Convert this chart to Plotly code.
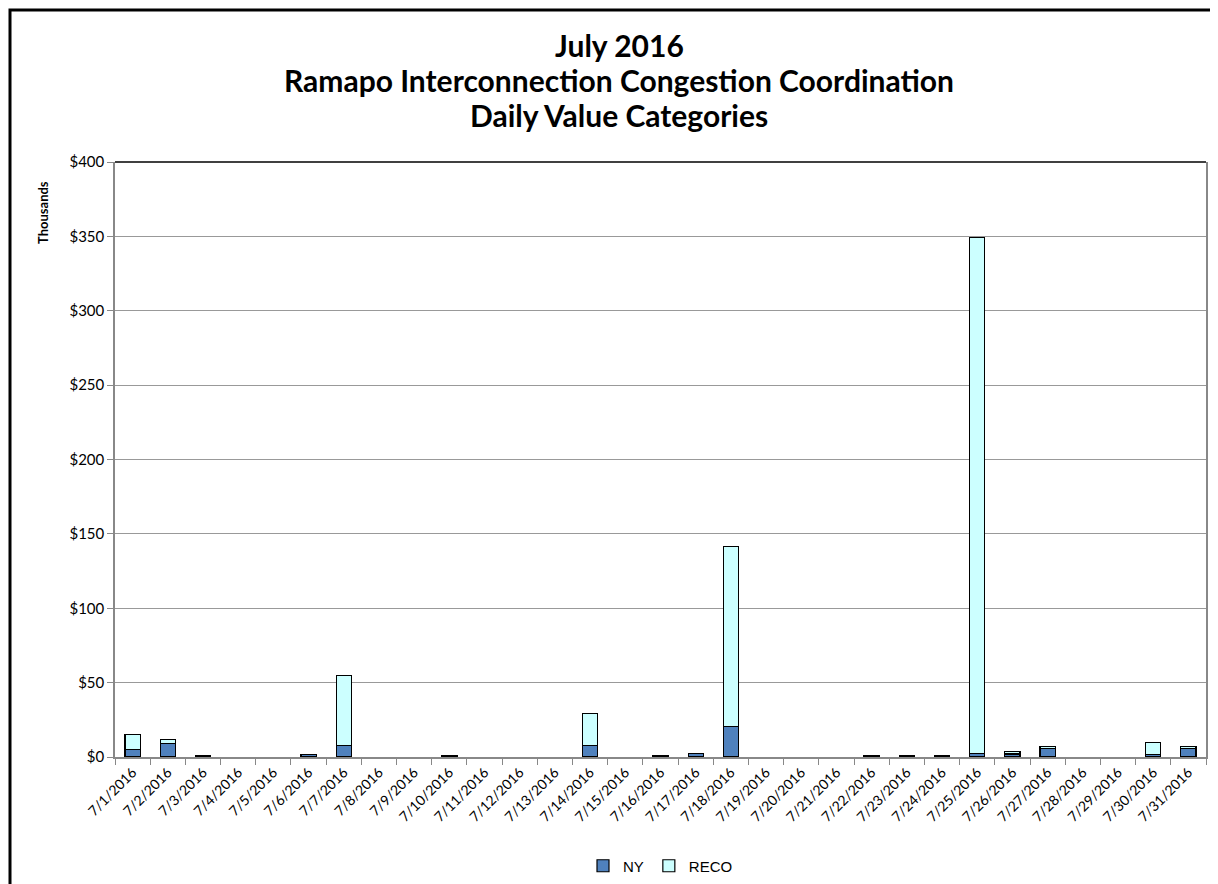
import plotly.graph_objects as go

dates = [f"7/{d}/2016" for d in range(1, 32)]
ny = [5, 9, 0.8, 0, 0, 1.5, 8, 0, 0, 0.8, 0, 0, 0, 8, 0, 0.8, 2.5, 20.5, 0, 0, 0, 0.8, 0.8, 0.8, 2.5, 2, 5.5, 0, 0, 1.5, 5.5]
reco = [10, 2.5, 0, 0, 0, 0, 47, 0, 0, 0, 0, 0, 0, 21.5, 0, 0, 0, 121, 0, 0, 0, 0, 0, 0, 347, 1.5, 1.5, 0, 0, 8.5, 1.5]
y_ticks = [0, 50, 100, 150, 200, 250, 300, 350, 400]
y_labels = ["$0", "$50", "$100", "$150", "$200", "$250", "$300", "$350", "$400"]
title_lines = ["July 2016", "Ramapo Interconnection Congestion Coordination", "Daily Value Categories"]

OFF = 8  # page body margin
W, H = 1218 - OFF, 884 - OFF
# plot area in screenshot pixels
PL, PR, PT, PB = 115, 1206, 162, 757
L, R, T, B = PL - OFF, W - (PR - OFF), PT - OFF, H - (PB - OFF)
pw, ph = W - L - R, H - T - B


def px_x(x):
    return (x - OFF - L) / pw


def px_y(y):
    return (H - B - (y - OFF)) / ph


def nz(v):
    return [None if a == 0 else a for a in v]


fig = go.Figure()
fig.add_trace(go.Bar(x=dates, y=nz(ny), name="NY",
                     marker=dict(color="#4F81BD", line=dict(color="black", width=1.2))))
fig.add_trace(go.Bar(x=dates, y=nz(reco), name="RECO",
                     marker=dict(color="#CCFFFF", line=dict(color="black", width=1.2))))

annotations = []
for i, t in enumerate(title_lines):
    annotations.append(dict(text=f"<b>{t}</b>", xref="paper", yref="paper",
                            x=px_x(619), y=px_y(45 + 35 * i), xanchor="center", yanchor="middle",
                            showarrow=False, font=dict(family="Lato", size=30, color="black")))
annotations.append(dict(text="<b>Thousands</b>", xref="paper", yref="paper",
                        x=px_x(43), y=px_y(213), xanchor="center", yanchor="middle", textangle=-90,
                        showarrow=False, font=dict(family="Lato", size=13, color="black")))

fig.update_layout(
    width=W, height=H,
    barmode="stack", bargap=0.57,
    plot_bgcolor="white", paper_bgcolor="white",
    margin=dict(l=L, r=R, t=T, b=B, autoexpand=False),
    showlegend=True,
    legend=dict(orientation="h", x=0.5, xanchor="center", y=px_y(866), yanchor="middle",
                font=dict(family="Liberation Sans", size=15, color="black"),
                itemwidth=30, traceorder="normal", bgcolor="rgba(0,0,0,0)"),
    font=dict(family="Liberation Sans", color="black"),
    xaxis=dict(
        type="category", tickangle=-45, tickson="boundaries", ticks="outside", ticklen=6,
        tickcolor="#888888", showline=True, linecolor="#888888", linewidth=1.5,
        tickfont=dict(family="Lato", size=14, color="black"),
        showgrid=False, automargin=False,
    ),
    yaxis=dict(
        range=[0, 400], tickvals=y_ticks, ticktext=y_labels, ticks="outside", ticklen=6,
        tickcolor="#888888", showline=True, linecolor="#888888", linewidth=1.5, mirror=True,
        showgrid=True, gridcolor="#999999", gridwidth=1,
        tickfont=dict(family="Lato", size=15, color="black"),
        automargin=False, zeroline=False,
    ),
    annotations=annotations,
    shapes=[
        dict(type="rect", xref="paper", yref="paper",
             x0=px_x(10), x1=px_x(1240), y0=px_y(920), y1=px_y(10),
             line=dict(color="black", width=3), fillcolor="rgba(0,0,0,0)", layer="above"),
        dict(type="line", xref="paper", yref="paper", x0=0, x1=1, y0=1, y1=1,
             line=dict(color="black", width=1.5)),
    ],
)

fig.write_html("out.html")
